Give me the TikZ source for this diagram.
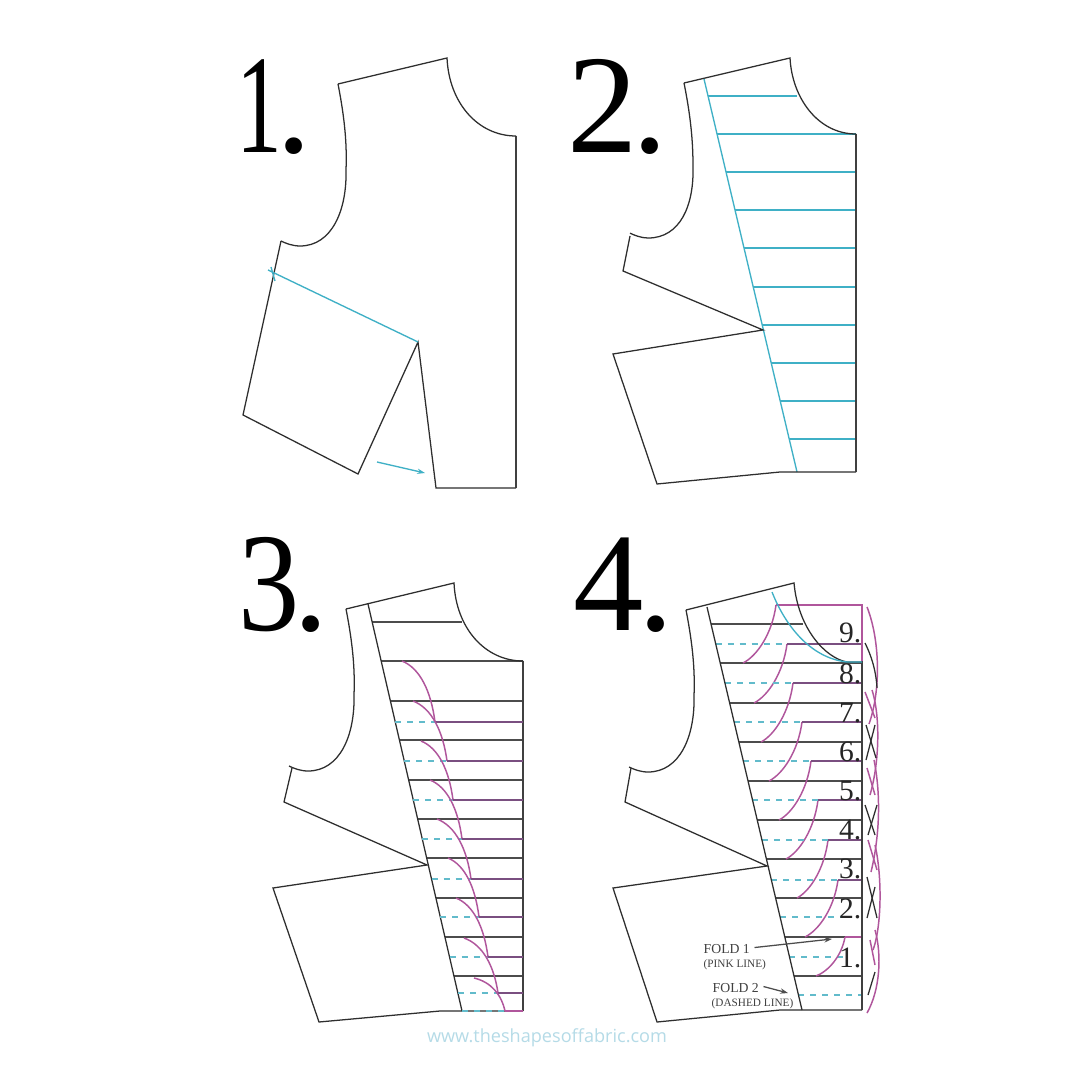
\documentclass[tikz,border=0pt]{standalone}
\usepackage{fontspec}
\setmainfont{Liberation Serif}
\newfontfamily\wmfont{Open Sans}
\newfontfamily\narrowone[FakeStretch=0.65]{Liberation Serif}
\newfontfamily\narrowthree[FakeStretch=0.87]{Liberation Serif}
\usetikzlibrary{arrows.meta}
\definecolor{pinkcol}{HTML}{B0569C}
\definecolor{purpcol}{HTML}{7A4F80}
\definecolor{wmcol}{HTML}{B5DBE7}
\definecolor{bluecol}{HTML}{3FB0C6}
\definecolor{dashcol}{HTML}{62BBCB}
\tikzset{
 cut/.style={draw=black!82,line width=0.36pt,line join=miter},
 rule/.style={draw=black!70,line width=0.36pt},
 side/.style={draw=black!75,line width=0.48pt},
 blueline/.style={draw=bluecol,line width=0.38pt},
 bluedash/.style={draw=dashcol,line width=0.36pt,dash pattern=on 1.7pt off 1.7pt},
 pinkline/.style={draw=pinkcol,line width=0.42pt},
 purpline/.style={draw=purpcol,line width=0.38pt},
 bignum/.style={anchor=base west,inner sep=0pt,font=\fontsize{40}{42}\selectfont,text=black},
 smallnum/.style={anchor=base east,inner sep=0pt,font=\fontsize{8.4}{9}\selectfont,text=black!85},
 foldtext/.style={anchor=base west,inner sep=0pt,text=black!75},
 tinytip/.style={-{Stealth[length=2.2pt,width=1.5pt]}},
}
\newcommand{\armneck}{%
 (0,0) .. controls (7,36) and (9,61) .. (8,86)
 .. controls (9,126) and (-6,162) .. (-38,162)
 .. controls (-46,162) and (-53,159) .. (-57,157)}
\begin{document}
\begin{tikzpicture}[x=0.01cm,y=-0.01cm]
\useasboundingbox[fill=white] (0,0) rectangle (1080,1080);
% ---------- numerals
\node[bignum] (n1) at (235.5,153) {{\narrowone 1}\kern-1.6pt.};
\node[bignum] (n2) at (567,153) {2\kern-1.6pt.};
\node[bignum] (n3) at (238,630) {{\narrowthree 3}\kern-1.85pt.};
\node[bignum] (n4) at (573,630) {4\kern-1.6pt.};
% ---------- panel 1
\draw[cut] (281,241) -- (243,415) -- (358,474) -- (418,342) -- (436,488) -- (516,488);
\draw[side] (516,488) -- (516,136);
\draw[cut] (516,136) .. controls (478,136) and (449,103) .. (447,58) -- (338,84);
\begin{scope}[shift={(338,84)}]\draw[cut] \armneck;\end{scope}
\draw[blueline] (268,270) -- (418,342);
\draw[blueline] (271,267) -- (275,281);
\draw[blueline,tinytip] (377,462) -- (425,473);
% ---------- panel 2
\foreach \y in {134,172,210,248,287,325,363,401,439}{
 \draw[blueline] ({704+(\y-79)*0.2366},\y) -- (856,\y);}
\draw[blueline] (708,96) -- (797,96);
\draw[blueline] (704,79) -- (797,472);
\draw[cut] (630,236) -- (623,271) -- (763,330) -- (613,354) -- (657,484) -- (780,472) -- (856,472);
\draw[side] (856,472) -- (856,134);
\draw[cut] (856,134) .. controls (818,134) and (792,98) .. (790,58) -- (684,83);
\begin{scope}[shift={(684,83)},xscale=1,yscale=0.975]\draw[cut] (0,0) .. controls (7,36) and (9,61) .. (9,86)
 .. controls (10,126) and (-4,159) .. (-36,159)
 .. controls (-43,159) and (-50,156) .. (-54,154);\end{scope}
% ---------- panel 3
\foreach \y in {661,701,740,780,819,858,898,937,976}{
 \draw[rule] ({368+(\y-604)*0.2315},\y) -- (523,\y);}
\draw[rule] (372,622) -- (462,622);
\draw[cut] (368,604) -- (462,1011);
\draw[cut] (292,768) -- (284,802) -- (427,865) -- (273,888) -- (319,1022) -- (440,1011) -- (523,1011);
\draw[side] (523,1011) -- (523,661);
\draw[cut] (523,661) .. controls (485,661) and (456,628) .. (454,583) -- (346,609);
\begin{scope}[shift={(346,609)}]\draw[cut] \armneck;\end{scope}
\foreach \a/\b/\c/\d in {402/661/435/722,413/701/447/761,421/741/453/800,430/780/462/839,437/819/471/879,448/858/479/917,456/898/488/957,464/938/498/993,474/978/505/1011}{
 \draw[bluedash] ({368+(\d-604)*0.2315},\d) -- (\c,\d);
 \draw[pinkline] (\a,\b) .. controls ({\a+.55*(\c-\a)},{\b+.12*(\d-\b)}) and ({\c-.12*(\c-\a)},{\d-.5*(\d-\b)}) .. (\c,\d);
 \draw[purpline] (\c,\d) -- (523,\d);}
\draw[pinkline,line width=0.8pt] (505,1011) -- (523,1011);
% ---------- panel 4
\foreach \y in {663,703,742,781,820,859,898,937,976}{
 \draw[rule] ({707+(\y-607)*0.2357},\y) -- (862,\y);}
\draw[rule] (711,624) -- (803,624);
\foreach \y/\e in {917/847,957/847,995/862}{
 \draw[bluedash] ({707+(\y-607)*0.2357},\y) -- (\e,\y);}
\foreach \a/\b/\c/\d in {776/605/743/663,787/644/754/703,793/683/761/742,802/722/769/781,811/761/779/820,818/800/786/859,828/840/797/898,838/880/805/937,845/937/816/976}{
 \draw[pinkline] (\a,\b) .. controls ({\a-.12*(\a-\c)},{\b+.5*(\d-\b)}) and ({\c+.42*(\a-\c)},{\d-.12*(\d-\b)}) .. (\c,\d);}
\foreach \y/\s in {644/787,683/793,722/802,761/811,800/818,840/828,880/838}{
 \draw[bluedash] ({707+(\y-607)*0.2357},\y) -- (\s,\y);
 \draw[purpline] (\s,\y) -- (862,\y);}
\draw[pinkline] (776,605) -- (862,605) -- (862,661);
\draw[pinkline] (845,937) -- (862,937);
\draw[cut] (707,607) -- (802,1010);
\draw[cut] (631,768) -- (625,802) -- (767,866) -- (613,888) -- (657,1022) -- (780,1010) -- (862,1010);
\draw[side] (862,1010) -- (862,661);
\draw[cut] (862,662) -- (847,662) .. controls (825,658) and (798,628) .. (794,583) -- (686,610);
\begin{scope}[shift={(686,610)}]\draw[cut] \armneck;\end{scope}
\draw[blueline] (772,592) .. controls (785,625) and (810,658) .. (847,662) -- (862,662);
% right-hand strip
\draw[pinkline] (867,607) .. controls (880,640) and (881,690) .. (869,724);
\draw[pinkline] (872,690) .. controls (880,715) and (880,760) .. (870,795);
\draw[pinkline] (874,760) .. controls (880,790) and (881,830) .. (871,872);
\draw[pinkline] (875,845) .. controls (882,875) and (882,925) .. (873,950);
\draw[pinkline] (875,930) .. controls (882,955) and (880,990) .. (867,1013);
\draw[pinkline] (865,692) -- (875,718);
\draw[pinkline] (867,768) -- (875,795);
\draw[pinkline] (868,840) -- (877,870);
\draw[pinkline] (870,940) -- (875,965);
\draw[cut] (865,643) .. controls (871,655) and (876,670) .. (877,688);
\draw[cut] (866,725) -- (876,758);
\draw[cut] (875,725) -- (866,760);
\draw[cut] (865,805) -- (875,835);
\draw[cut] (877,805) -- (868,835);
\draw[cut] (867,877) -- (877,918);
\draw[cut] (875,887) -- (867,918);
\draw[cut] (875,972) -- (868,995);
% small numbers
\foreach \t/\y in {9/642,8/683,7/722,6/761,5/800,4/839,3/878,2/918,1/967}{
 \node[smallnum] at (862,\y) {\t.};}
% labels
\node[foldtext,font=\fontsize{3.9}{5}\selectfont] (f1) at (703,953) {FOLD 1};
\node[foldtext,font=\fontsize{3.2}{4}\selectfont] (f1b) at (703,967) {(PINK LINE)};
\node[foldtext,font=\fontsize{3.9}{5}\selectfont] (f2) at (712,992) {FOLD 2};
\node[foldtext,font=\fontsize{3.2}{4}\selectfont] (f2b) at (711,1006) {(DASHED LINE)};
\coordinate (t1) at (832,939);
\coordinate (t2) at (788,993);
\draw[rule,tinytip] (f1.east) ++(4,-1) -- (t1);
\draw[rule,tinytip] (f2.east) ++(4,-1) -- (t2);
\node[inner sep=0pt,anchor=base,text=wmcol,font=\wmfont\fontsize{5.15}{7}\selectfont] (wm) at (547,1042) {www.theshapesoffabric.com};
\end{tikzpicture}
\end{document}
